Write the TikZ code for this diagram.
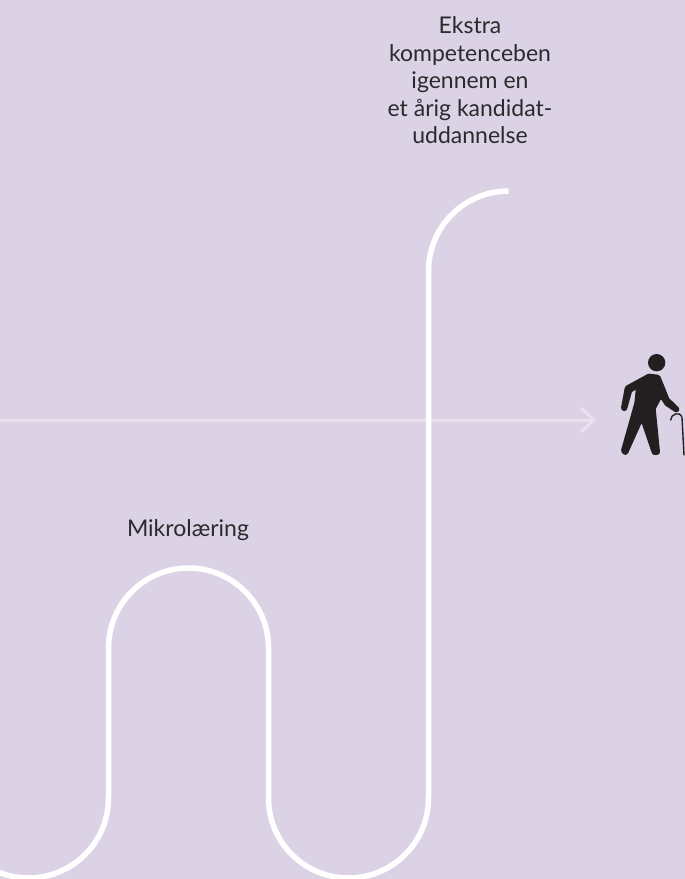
\documentclass[tikz,border=0pt]{standalone}
\usepackage{fontspec}
\setmainfont{Lato}
\definecolor{bgc}{HTML}{DCD2E5}
\definecolor{txt}{HTML}{2B292D}
\definecolor{arr}{HTML}{E9E1EE}
\definecolor{fig}{HTML}{231F20}
\tikzset{
  road/.style={draw=white,line width=5.5pt},
  label/.style={text=txt,align=center,font=\fontsize{23}{27.5}\selectfont,inner sep=0pt},
  timeline/.style={draw=arr,line width=3pt},
}
\begin{document}
\begin{tikzpicture}[x=1pt,y=-1pt]
\useasboundingbox (0,0) rectangle (685,879);
\fill[bgc] (0,0) rectangle (685,879);
\coordinate (tstart) at (0,420);
\coordinate (ttip) at (594,420);
\draw[timeline] (tstart) -- (ttip);
\draw[timeline,line join=miter] (581,408) -- (ttip) -- (581,432);
\draw[road] (108.5,798) arc[start angle=0,end angle=-115,radius=80pt];
\draw[road] (108.5,798) -- (108.5,648) arc[start angle=180,end angle=0,radius=80pt]
  -- (268.5,798) arc[start angle=180,end angle=270,radius=80pt]
  arc[start angle=270,end angle=360,radius=80pt]
  -- (428.5,271) arc[start angle=180,end angle=90,radius=80pt];
\node[label] (top) at (470,80.5) {Ekstra\\kompetenceben\\igennem en\\et årig kandidat-\\uddannelse};
\node[label] (mikro) at (188,530) {Mikrolæring};
\begin{scope}[shift={(580,340)},x=0.3333pt,y=-0.3333pt]
  \fill[fig] (230,68) circle[radius=26pt/3];
  \fill[fig,draw=fig,line width=6pt,line cap=round,line join=round]
    (207,110) -- (233,113) -- (260,180) -- (289,208) -- (262,190) -- (242,160)
    -- (218,205) -- (231,336) -- (224,336) -- (186,225) -- (136,336) -- (132,332)
    -- (172,190) -- (178,132) -- (148,150) -- (133,204) -- (132,204) -- (143,145) -- cycle;
  \draw[fig,line width=1.4pt,line cap=round] (272,240) .. controls (272,222) and (300,212) .. (306,232) -- (312,345);
\end{scope}
\end{tikzpicture}
\end{document}
